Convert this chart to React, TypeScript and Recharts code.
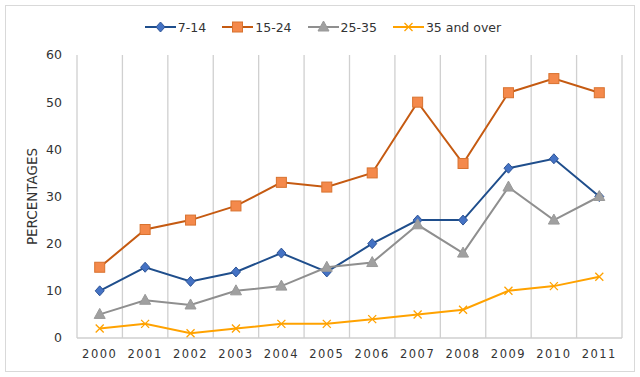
import React from 'react';
import { LineChart, Line, XAxis, YAxis, CartesianGrid, Legend } from 'recharts';

const years = ['2000', '2001', '2002', '2003', '2004', '2005', '2006', '2007', '2008', '2009', '2010', '2011'];
const s7to14 = [10, 15, 12, 14, 18, 14, 20, 25, 25, 36, 38, 30];
const s15to24 = [15, 23, 25, 28, 33, 32, 35, 50, 37, 52, 55, 52];
const s25to35 = [5, 8, 7, 10, 11, 15, 16, 24, 18, 32, 25, 30];
const s35over = [2, 3, 1, 2, 3, 3, 4, 5, 6, 10, 11, 13];
const yTicks = [0, 10, 20, 30, 40, 50, 60];

const data = years.map((y, i) => ({
  year: y,
  idx: i + 0.5,
  a: s7to14[i],
  b: s15to24[i],
  c: s25to35[i],
  d: s35over[i],
}));
const gridTicks = years.map((_, i) => i).concat([years.length]);

const FONT = '"DejaVu Sans", sans-serif';

const series = [
  { key: 'a', name: '7-14', line: '#1F4E8C', fill: '#4472C4', stroke: '#2F5597', shape: 'diamond' },
  { key: 'b', name: '15-24', line: '#C55A11', fill: '#F4894B', stroke: '#D8722F', shape: 'square' },
  { key: 'c', name: '25-35', line: '#8F8F8F', fill: '#A0A0A0', stroke: '#999999', shape: 'triangle' },
  { key: 'd', name: '35 and over', line: '#FFA200', fill: 'none', stroke: '#FFA200', shape: 'x' },
];

function marker(shape: string, cx: number, cy: number, fill: string, stroke: string, key?: any) {
  if (shape === 'diamond') {
    return <path key={key} d={`M${cx},${cy - 5}L${cx + 4.5},${cy}L${cx},${cy + 5}L${cx - 4.5},${cy}Z`} fill={fill} stroke={stroke} strokeWidth={1} />;
  }
  if (shape === 'square') {
    return <rect key={key} x={cx - 5} y={cy - 5} width={10} height={10} fill={fill} stroke={stroke} strokeWidth={1} />;
  }
  if (shape === 'triangle') {
    return <path key={key} d={`M${cx},${cy - 6}L${cx + 5.5},${cy + 4}L${cx - 5.5},${cy + 4}Z`} fill={fill} stroke={stroke} strokeWidth={1} />;
  }
  return (
    <path key={key} d={`M${cx - 4},${cy - 4}L${cx + 4},${cy + 4}M${cx + 4},${cy - 4}L${cx - 4},${cy + 4}`} stroke={stroke} strokeWidth={1.3} fill="none" />
  );
}

const renderLegend = () => (
  <div style={{ display: 'flex', justifyContent: 'center', alignItems: 'center', fontFamily: FONT, fontSize: 12.5, color: '#333', height: 20 }}>
    {series.map((s, i) => (
      <div key={s.key} style={{ display: 'flex', alignItems: 'center', marginRight: i === series.length - 1 ? 0 : 16 }}>
        <svg width={31} height={14} style={{ marginRight: 2 }}>
          <line x1={0} y1={7} x2={31} y2={7} stroke={s.line} strokeWidth={2} />
          {marker(s.shape, 15.5, 7, s.fill, s.stroke)}
        </svg>
        <span>{s.name}</span>
      </div>
    ))}
  </div>
);

export default function App() {
  return (
    <div style={{ position: 'absolute', left: 0, top: 0, width: 640, height: 377, background: '#fff' }}>
      <div style={{ position: 'absolute', left: 5, top: 5, width: 628, height: 365, border: '1px solid #d9d9d9' }} />
      <LineChart width={640} height={377} data={data} margin={{ top: 35, right: 18, bottom: 0, left: 0 }}>
        <Legend verticalAlign="top" content={renderLegend} wrapperStyle={{ top: 17, left: 12 }} />
        <XAxis xAxisId="grid" type="number" dataKey="idx" domain={[0, years.length]} ticks={gridTicks} hide />
        <CartesianGrid xAxisId="grid" horizontal={false} stroke="#d0d0d0" strokeWidth={1.3} />
        <XAxis
          dataKey="year"
          scale="band"
          axisLine={{ stroke: '#cfcfcf', strokeWidth: 1.3 }}
          tickLine={false}
          tickSize={0}
          tickMargin={12}
          height={39}
          tick={{ fontFamily: FONT, fontSize: 11.5, fill: '#333', letterSpacing: 1.5 }}
          interval={0}
        />
        <YAxis
          domain={[0, 60]}
          ticks={yTicks}
          width={77}
          axisLine={false}
          tickLine={false}
          tickSize={0}
          tickMargin={15}
          tick={{ fontFamily: FONT, fontSize: 12.5, fill: '#333' }}
          label={{ value: 'PERCENTAGES', angle: -90, position: 'center', dx: -6, style: { fontFamily: FONT, fontSize: 13.5, fill: '#333' } }}
        />
        {series.map((s) => (
          <Line
            key={s.key}
            dataKey={s.key}
            name={s.name}
            stroke={s.line}
            strokeWidth={2}
            isAnimationActive={false}
            dot={(p: any) => marker(s.shape, p.cx, p.cy, s.fill, s.stroke, `${s.key}-${p.index}`)}
            activeDot={false}
          />
        ))}
      </LineChart>
    </div>
  );
}
